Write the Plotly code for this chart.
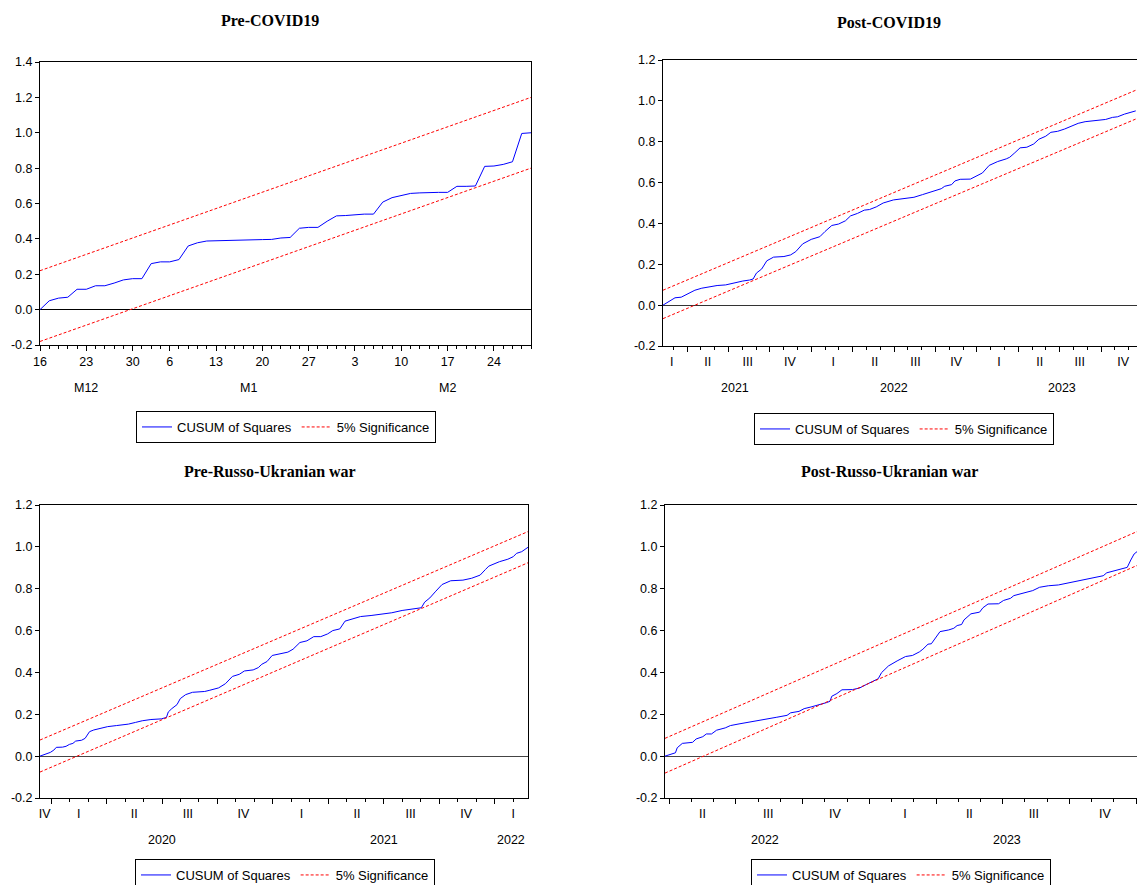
import plotly.graph_objects as go

W, H = 1137, 885

# ---------------- DATA ----------------
# Panel 1: Pre-COVID19 (business-day observations, 16 Dec 2019 .. 28 Feb 2020)
pc_x = list(range(54))
pc_cusum = [0.0, 0.05, 0.065, 0.07, 0.115, 0.115, 0.135, 0.135, 0.15, 0.168,
            0.175, 0.175, 0.26, 0.27, 0.27, 0.283, 0.36, 0.378, 0.388, 0.39,
            0.392, 0.394, 0.396, 0.396, 0.396, 0.397, 0.405, 0.408, 0.46, 0.465,
            0.465, 0.5, 0.53, 0.532, 0.538, 0.54, 0.54, 0.608, 0.633, 0.646,
            0.657, 0.66, 0.663, 0.663, 0.663, 0.697, 0.697, 0.699, 0.81, 0.812,
            0.821, 0.836, 0.996, 1.0]
pc_band_x = [0, 53]
pc_upper = [0.22, 1.20]
pc_lower = [-0.18, 0.80]
pc_day_pos = [0, 5, 10, 14, 19, 24, 29, 34, 39, 44, 49]
pc_day_text = ["16", "23", "30", "6", "13", "20", "27", "3", "10", "17", "24"]
pc_month_pos = [5, 22.5, 44]
pc_month_text = ["M12", "M1", "M2"]

# Panel 2: Post-COVID19 (x = months since Jan 2021)
poc_x = [1.26, 2.13, 2.58, 3.07, 3.57, 4.07, 4.56, 5.18, 5.80, 6.42, 7.04, 7.54, 7.79,
         8.03, 8.41, 8.78, 9.27, 10.02, 10.51, 10.88, 11.38, 12.00, 12.62, 12.99,
         13.49, 13.98, 14.48, 14.85, 15.35, 15.84, 16.22, 16.71, 17.21, 17.95, 18.70,
         19.44, 20.06, 20.80, 21.42, 21.67, 22.17, 22.41, 22.79, 23.53, 23.90, 24.40,
         24.89, 25.51, 26.13, 26.38, 26.75, 27.13, 27.62, 28.12, 28.49, 28.99, 29.36,
         29.85, 30.35, 30.85, 31.34, 31.84, 32.58, 33.33, 33.82, 34.19, 34.69, 35.51]
poc_cusum = [0.0, 0.036, 0.039, 0.055, 0.073, 0.083, 0.09, 0.096, 0.099, 0.109, 0.118,
             0.123, 0.128, 0.157, 0.177, 0.217, 0.235, 0.238, 0.246, 0.262, 0.3, 0.322,
             0.335, 0.36, 0.39, 0.397, 0.413, 0.437, 0.449, 0.465, 0.468, 0.481, 0.5,
             0.515, 0.523, 0.528, 0.541, 0.556, 0.57, 0.582, 0.59, 0.608, 0.616, 0.617,
             0.63, 0.647, 0.684, 0.703, 0.716, 0.724, 0.746, 0.77, 0.773, 0.789, 0.812,
             0.827, 0.846, 0.851, 0.862, 0.878, 0.89, 0.898, 0.903, 0.909, 0.919, 0.922,
             0.935, 0.951]
poc_band_x = [1.26, 35.51]
poc_upper = [0.073, 1.052]
poc_lower = [-0.066, 0.911]
poc_q_pos = [1.9, 4.5, 7.4, 10.45, 13.6, 16.6, 19.55, 22.5, 25.6, 28.55, 31.45, 34.6]
poc_q_text = ["I", "II", "III", "IV"] * 3
poc_year_pos = [6.5, 18.0, 30.2]
poc_year_text = ["2021", "2022", "2023"]

# Panel 3: Pre-Russo-Ukranian war (x = months since Jan 2020)
prw_x = [-0.60, -0.32, -0.04, 0.15, 0.28, 0.62, 0.81, 0.99, 1.18, 1.33, 1.65, 1.84, 1.93,
         2.08, 2.31, 2.68, 3.06, 3.53, 4.18, 4.56, 4.93, 5.40, 5.96, 6.24, 6.34, 6.53,
         6.81, 6.99, 7.28, 7.65, 8.31, 8.59, 9.06, 9.43, 9.81, 10.18, 10.46, 10.93,
         11.21, 11.40, 11.68, 11.96, 12.34, 12.81, 13.09, 13.46, 13.84, 14.21, 14.59,
         14.96, 15.24, 15.62, 15.90, 16.37, 16.74, 17.31, 17.87, 18.43, 18.99, 19.56,
         20.03, 20.21, 20.49, 20.78, 21.15, 21.62, 22.28, 22.75, 23.21, 23.50, 23.68,
         24.25, 24.71, 25.00, 25.18, 25.46, 25.80]
prw_cusum = [0.0, 0.01, 0.018, 0.029, 0.042, 0.043, 0.047, 0.056, 0.061, 0.072, 0.076,
             0.085, 0.098, 0.117, 0.125, 0.133, 0.141, 0.146, 0.153, 0.161, 0.169, 0.175,
             0.178, 0.185, 0.211, 0.227, 0.246, 0.275, 0.294, 0.305, 0.309, 0.315, 0.326,
             0.346, 0.381, 0.391, 0.407, 0.412, 0.423, 0.439, 0.452, 0.481, 0.487, 0.497,
             0.511, 0.543, 0.551, 0.571, 0.571, 0.584, 0.6, 0.608, 0.645, 0.656, 0.667,
             0.672, 0.677, 0.685, 0.696, 0.704, 0.709, 0.736, 0.756, 0.785, 0.82, 0.838,
             0.841, 0.85, 0.865, 0.892, 0.908, 0.929, 0.941, 0.953, 0.969, 0.977, 0.998]
prw_band_x = [-0.60, 25.80]
prw_upper = [0.077, 1.073]
prw_lower = [-0.076, 0.924]
prw_q_pos = [-0.35, 1.5, 4.5, 7.4, 10.4, 13.55, 16.55, 19.45, 22.45, 25.0]
prw_q_text = ["IV", "I", "II", "III", "IV", "I", "II", "III", "IV", "I"]
prw_year_pos = [6.0, 18.0, 24.9]
prw_year_text = ["2020", "2021", "2022"]

# Panel 4: Post-Russo-Ukranian war (x = months since Jan 2022)
pow_x = [2.81, 3.05, 3.28, 3.36, 3.59, 4.05, 4.21, 4.51, 4.67, 4.90, 5.13, 5.52, 5.75,
         6.14, 6.60, 7.06, 7.45, 7.84, 8.30, 8.46, 8.84, 9.07, 9.38, 9.69, 10.08, 10.23,
         10.31, 10.54, 10.77, 11.24, 11.55, 11.86, 12.09, 12.40, 12.55, 12.86, 13.25,
         13.63, 13.94, 14.25, 14.41, 14.64, 14.79, 15.02, 15.18, 15.57, 15.80, 15.95,
         16.15, 16.26, 16.57, 16.96, 17.11, 17.34, 17.81, 18.04, 18.35, 18.50, 18.89,
         19.35, 19.66, 20.05, 20.51, 20.98, 21.44, 22.06, 22.52, 22.68, 23.14, 23.37,
         23.60, 23.76, 23.91, 24.04]
pow_cusum = [0.0, 0.008, 0.016, 0.04, 0.061, 0.066, 0.082, 0.093, 0.106, 0.106, 0.124,
             0.135, 0.146, 0.154, 0.162, 0.169, 0.177, 0.186, 0.195, 0.207, 0.214, 0.227,
             0.235, 0.243, 0.256, 0.262, 0.286, 0.299, 0.317, 0.318, 0.325, 0.342, 0.355,
             0.37, 0.399, 0.431, 0.455, 0.476, 0.481, 0.498, 0.511, 0.535, 0.537, 0.568,
             0.595, 0.603, 0.611, 0.624, 0.629, 0.651, 0.68, 0.688, 0.709, 0.727, 0.728,
             0.744, 0.754, 0.767, 0.777, 0.791, 0.807, 0.814, 0.818, 0.828, 0.839, 0.854,
             0.862, 0.876, 0.889, 0.895, 0.902, 0.937, 0.966, 0.977]
pow_band_x = [2.81, 24.04]
pow_upper = [0.085, 1.073]
pow_lower = [-0.081, 0.911]
pow_q_pos = [4.5, 7.45, 10.45, 13.6, 16.5, 19.4, 22.6]
pow_q_text = ["II", "III", "IV", "I", "II", "III", "IV"]
pow_year_pos = [7.3, 18.2]
pow_year_text = ["2022", "2023"]

y_vals_tall = [-0.2, 0.0, 0.2, 0.4, 0.6, 0.8, 1.0, 1.2, 1.4]
y_text_tall = ["-0.2", "0.0", "0.2", "0.4", "0.6", "0.8", "1.0", "1.2", "1.4"]
y_vals = [-0.2, 0.0, 0.2, 0.4, 0.6, 0.8, 1.0, 1.2]
y_text = ["-0.2", "0.0", "0.2", "0.4", "0.6", "0.8", "1.0", "1.2"]

titles = ["Pre-COVID19", "Post-COVID19", "Pre-Russo-Ukranian war", "Post-Russo-Ukranian war"]

# ---------------- STYLE / LAYOUT ----------------
SANS = "Liberation Sans"
SERIF = "Liberation Serif"


def tickfont():
    return dict(family=SANS, size=12.5, color="black")


# plot boxes in pixels: (left, right, top, bottom)
boxes = [(40, 531, 62, 345), (663, 1137, 60, 346), (40, 528, 505, 798), (665, 1137, 505, 798)]
title_pos = [(270, 20), (889, 22), (270, 471), (889, 471)]
legend_pos = [(286, 411), (904, 413), (285, 859), (901, 859)]
second_row_y = [388, 388, 840, 840]


def px_x(p):
    return p / W


def px_y(p):
    return 1 - p / H


fig = go.Figure()

panels = [
    dict(x=pc_x, y=pc_cusum, bx=pc_band_x, up=pc_upper, lo=pc_lower,
         yr=[-0.2, 1.4], yv=y_vals_tall, yt=y_text_tall, xr=[0, 53], zc="black"),
    dict(x=poc_x, y=poc_cusum, bx=poc_band_x, up=poc_upper, lo=poc_lower,
         yr=[-0.2, 1.2], yv=y_vals, yt=y_text, xr=[1.26, 35.6], zc="#333333"),
    dict(x=prw_x, y=prw_cusum, bx=prw_band_x, up=prw_upper, lo=prw_lower,
         yr=[-0.2, 1.2], yv=y_vals, yt=y_text, xr=[-0.6, 25.8], zc="#444444"),
    dict(x=pow_x, y=pow_cusum, bx=pow_band_x, up=pow_upper, lo=pow_lower,
         yr=[-0.2, 1.2], yv=y_vals, yt=y_text, xr=[2.81, 24.04], zc="#444444"),
]

layout = dict(width=W, height=H, margin=dict(l=0, r=0, t=0, b=0, autoexpand=False),
              autosize=False, paper_bgcolor="white", plot_bgcolor="white",
              showlegend=True, font=dict(family=SANS, size=12.5, color="black"))
annotations = []

for i, p in enumerate(panels):
    n = i + 1
    xa = "x" if n == 1 else f"x{n}"
    ya = "y" if n == 1 else f"y{n}"
    # the overlay x axis carries the quarter labels; the lower band is plotted on it
    xo = xa if n == 1 else f"x{n + 3}"
    lg = "legend" if n == 1 else f"legend{n}"
    fig.add_trace(go.Scatter(x=p["x"], y=p["y"], mode="lines", name="CUSUM of Squares",
                             line=dict(color="#0000ff", width=1), xaxis=xa, yaxis=ya,
                             legend=lg))
    fig.add_trace(go.Scatter(x=p["bx"], y=p["up"], mode="lines", name="5% Significance",
                             line=dict(color="#ff0000", width=1, dash="3px,2px"),
                             xaxis=xa, yaxis=ya, legend=lg))
    fig.add_trace(go.Scatter(x=p["bx"], y=p["lo"], mode="lines", name="5% Significance",
                             line=dict(color="#ff0000", width=1, dash="3px,2px"),
                             xaxis=xo, yaxis=ya, legend=lg, showlegend=False))

    l, r, t, b = boxes[i]
    xdom = [px_x(l), px_x(r)]
    ydom = [px_y(b), px_y(t)]
    xkey = "xaxis" if n == 1 else f"xaxis{n}"
    ykey = "yaxis" if n == 1 else f"yaxis{n}"

    layout[ykey] = dict(domain=ydom, anchor=xa, range=p["yr"], tickmode="array",
                        tickvals=p["yv"], ticktext=p["yt"], ticks="outside", ticklen=4,
                        tickcolor="black", showline=True, linecolor="black", linewidth=1,
                        mirror=True, showgrid=False, zeroline=True, zerolinecolor=p["zc"],
                        zerolinewidth=1, tickfont=tickfont(), automargin=False)

    if n == 1:
        layout[xkey] = dict(domain=xdom, anchor=ya, range=p["xr"], tickmode="array",
                            tickvals=pc_day_pos, ticktext=pc_day_text, ticks="outside",
                            ticklen=5, tickcolor="black", showline=True, linecolor="black",
                            linewidth=1, mirror=True, showgrid=False, zeroline=False,
                            tickfont=tickfont(), automargin=False, ticklabelstandoff=0,
                            minor=dict(tickmode="array", tickvals=pc_x, ticks="outside",
                                       ticklen=3, tickcolor="black", showgrid=False))
        second_pos, second_text = pc_month_pos, pc_month_text
    else:
        lo_r, hi_r = p["xr"]
        q_bounds = [m for m in range(-3, 40) if m % 3 == 0 and lo_r <= m <= hi_r]
        months = [m for m in range(-3, 40) if lo_r <= m <= hi_r]
        layout[xkey] = dict(domain=xdom, anchor=ya, range=p["xr"], tickmode="array",
                            tickvals=q_bounds, ticks="outside", ticklen=5, tickcolor="black",
                            showticklabels=False, showline=True, linecolor="black",
                            linewidth=1, mirror=True, showgrid=False, zeroline=False,
                            automargin=False,
                            minor=dict(tickmode="array", tickvals=months, ticks="outside",
                                       ticklen=3, tickcolor="black", showgrid=False))
        qpos, qtext, ypos, ytext = [
            (poc_q_pos, poc_q_text, poc_year_pos, poc_year_text),
            (prw_q_pos, prw_q_text, prw_year_pos, prw_year_text),
            (pow_q_pos, pow_q_text, pow_year_pos, pow_year_text)][n - 2]
        okey = f"xaxis{n + 3}"
        layout[okey] = dict(overlaying=xa, anchor=ya, side="bottom", range=p["xr"],
                            tickmode="array", tickvals=qpos, ticktext=qtext, ticks="",
                            ticklabelstandoff=6, showline=False, showgrid=False,
                            zeroline=False, tickfont=tickfont(), automargin=False)
        second_pos, second_text = ypos, ytext

    for sp, st in zip(second_pos, second_text):
        annotations.append(dict(x=sp, y=px_y(second_row_y[i]), xref=xa, yref="paper",
                                text=st, showarrow=False, xanchor="center",
                                yanchor="middle", font=tickfont()))

    tx, ty = title_pos[i]
    annotations.append(dict(x=px_x(tx), y=px_y(ty), xref="paper", yref="paper",
                            text=f"<b>{titles[i]}</b>", showarrow=False, xanchor="center",
                            yanchor="middle",
                            font=dict(family=SERIF, size=16, color="black")))

    lx, ly = legend_pos[i]
    layout[lg] = dict(orientation="h", x=px_x(lx), xanchor="center", y=px_y(ly),
                      yanchor="top", bordercolor="black", borderwidth=1, bgcolor="white",
                      font=dict(family=SANS, size=13, color="black"),
                      itemclick=False, itemdoubleclick=False)

layout["annotations"] = annotations
fig.update_layout(**layout)
fig.write_html("out.html")
